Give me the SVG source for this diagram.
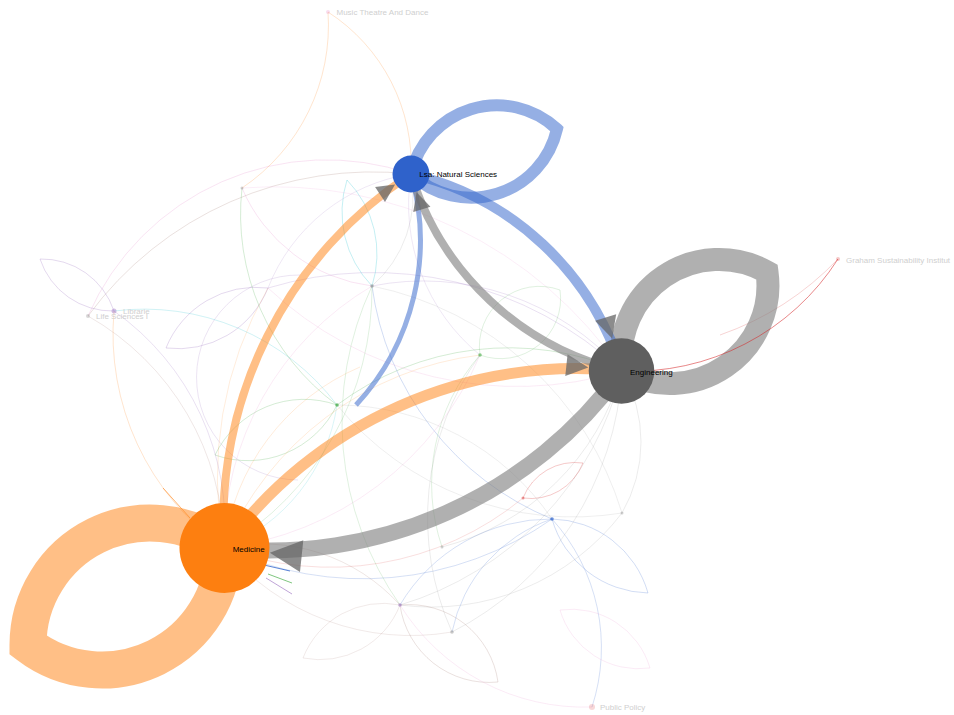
<svg xmlns="http://www.w3.org/2000/svg" width="954" height="715" viewBox="0 0 954 715">
<style>
.bg{fill:#fff}
.e{fill:none}
.loop{fill:none;stroke-linejoin:miter;stroke-miterlimit:10}
.or{stroke:#ff7f0e;stroke-opacity:.5}
.gr{stroke:#7f7f7f;stroke-opacity:.62}
.bl{stroke:#3366cc;stroke-opacity:.52}
.f{fill:none;stroke-width:1}
.fo{stroke:#ff7f0e}
.fg{stroke:#2ca02c}
.fb{stroke:#3366cc}
.fp{stroke:#9467bd}
.fk{stroke:#e377c2}
.fr{stroke:#d62728}
.fn{stroke:#8c564b}
.ft{stroke:#17becf}
.fy{stroke:#7f7f7f}
.ah{fill:#666;fill-opacity:.75}
.lbl{font-family:"Liberation Sans",Arial,sans-serif;font-size:8px;fill:#000}
.plbl{font-family:"Liberation Sans",Arial,sans-serif;font-size:8px;fill:#cfcfcf}
.sn{stroke:none}
</style>
<defs>
<marker id="aLsa" viewBox="0 -5 10 10" markerUnits="userSpaceOnUse" markerWidth="18" markerHeight="18" refX="20.6" refY="0" orient="auto" overflow="visible"><path class="ah" d="M0,-5L10,0L0,5Z"/></marker>
<marker id="aEng" viewBox="0 -5 10 10" markerUnits="userSpaceOnUse" markerWidth="22" markerHeight="22" refX="25.4" refY="0" orient="auto" overflow="visible"><path class="ah" d="M0,-5L10,0L0,5Z"/></marker>
<marker id="aMed" viewBox="0 -5 10 10" markerUnits="userSpaceOnUse" markerWidth="32" markerHeight="32" refX="24.4" refY="0" orient="auto" overflow="visible"><path class="ah" d="M0,-5L10,0L0,5Z"/></marker>
</defs>
<rect class="bg" x="0" y="0" width="954" height="715"/>

<g id="connectors">
  <!-- faint edges -->
  <g id="faint">
    <path class="f fn" stroke-opacity=".18" stroke-width="4" d="M88,316 A353,353 0 0 1 411,174"/>
    <path class="f fn" stroke-opacity=".14" stroke-width="6" d="M88,316 A269,269 0 0 1 224,548"/>
    <path class="f fk" stroke-opacity=".2" d="M88,316 A260,260 0 0 1 411,174"/>
    <path class="f fo" stroke-opacity=".2" d="M328,12 A182,182 0 0 1 411,174"/>
    <path class="f fo" stroke-opacity=".2" d="M328,12 A196,196 0 0 1 242,188"/>
    <path class="f fp" stroke-opacity=".25" d="M114,311 A76,76 0 0 1 40,259 A76,76 0 0 1 114,311"/>
    <path class="f fg" stroke-opacity=".2" stroke-width="3" d="M337,405 A99,99 0 0 1 215,455 A99,99 0 0 1 337,405"/>
    <path class="f fo" stroke-opacity=".14" stroke-width="7" d="M224,548 A380,380 0 0 1 268,288"/>
    <path class="f fo" stroke-opacity=".15" stroke-width="5" d="M224,548 A226,226 0 0 1 360,367"/>
    <path class="f ft" stroke-opacity=".16" stroke-width="6" d="M337,405 A182,182 0 0 1 224,548"/>
    <path class="f fg" stroke-opacity=".2" stroke-width="3" d="M337,405 A287,287 0 0 1 622,371"/>
    <path class="f fp" stroke-opacity=".2" stroke-width="2" d="M268,288 A364,364 0 0 1 622,371"/>
    <path class="f fp" stroke-opacity=".25" stroke-width="2" d="M268,288 A97,97 0 0 1 166,348 A97,97 0 0 1 268,288"/>
    <path class="f fp" stroke-opacity=".18" stroke-width="2" d="M300,275 A60,60 0 0 0 298,480"/>
    <path class="f fb" stroke-opacity=".2" stroke-width="2.5" d="M552,519 A329,329 0 0 1 224,548"/>
    <path class="f fb" stroke-opacity=".22" stroke-width="1.5" d="M552,519 A294,294 0 0 1 372,286"/>
    <path class="f fb" stroke-opacity=".2" stroke-width="1.5" d="M552,519 A192,192 0 0 1 592,707"/>
    <path class="f fb" stroke-opacity=".2" stroke-width="1.5" d="M400,605 A175,175 0 0 1 552,519"/>
    <path class="f fb" stroke-opacity=".22" stroke-width="2" d="M552,519 A102,102 0 0 1 648,593 A102,102 0 0 1 552,519"/>
    <path class="f fy" stroke-opacity=".15" stroke-width="4" d="M622,371 A312,312 0 0 1 452,632"/>
    <path class="f fy" stroke-opacity=".15" stroke-width="3" d="M622,371 A323,323 0 0 1 400,605"/>
    <path class="f fy" stroke-opacity=".15" stroke-width="1.5" d="M622,371 A142,142 0 0 1 622,513"/>
    <path class="f fy" stroke-opacity=".15" d="M622,513 A240,240 0 0 1 400,605"/>
    <path class="f fr" stroke-opacity=".25" d="M523,498 A56,56 0 0 1 583,463 A56,56 0 0 1 523,498"/>
    <path class="f fp" stroke-opacity=".15" d="M480,355 A194,194 0 0 1 411,174"/>
    <path class="f fy" stroke-opacity=".15" d="M411,174 A119,119 0 0 1 372,286"/>
    <path class="f fp" stroke-opacity=".18" stroke-width="1.5" d="M372,286 A264,264 0 0 1 622,371"/>
    <path class="f fk" stroke-opacity=".15" d="M224,548 A301,301 0 0 1 372,286"/>
    <path class="f fg" stroke-opacity=".15" d="M372,286 A301,301 0 0 1 224,548"/>
    <path class="f ft" stroke-opacity=".25" stroke-width="2" d="M372,286 A106,106 0 0 1 347,180 A106,106 0 0 1 372,286"/>
    <path class="f fp" stroke-opacity=".2" d="M114,311 A262,262 0 0 1 224,548"/>
    <path class="f ft" stroke-opacity=".2" d="M114,311 A242,242 0 0 1 337,405"/>
    <path class="f fo" stroke-opacity=".2" d="M224,548 A262,262 0 0 1 114,311"/>
    <path class="f fg" stroke-opacity=".2" d="M337,405 A237,237 0 0 1 242,188"/>
    <path class="f fk" stroke-opacity=".2" d="M372,286 A163,163 0 0 1 242,188"/>
    <path class="f fn" stroke-opacity=".18" stroke-width="1.5" d="M400,605 A90,90 0 0 1 498,682 A90,90 0 0 1 400,605"/>
    <path class="f fn" stroke-opacity=".12" d="M400,605 A86,86 0 0 1 303,658 A86,86 0 0 1 400,605"/>
    <path class="f fk" stroke-opacity=".15" d="M560,610 A82,82 0 0 1 650,668 A82,82 0 0 1 560,610"/>
    <path class="f fr" stroke-opacity=".15" d="M523,498 A303,303 0 0 1 224,548"/>
    <path class="f fy" stroke-opacity=".15" d="M622,371 A252,252 0 0 1 442,547"/>
    <path class="f fg" stroke-opacity=".15" d="M442,547 A196,196 0 0 1 480,355"/>
    <path class="f fy" stroke-opacity=".15" d="M452,632 A279,279 0 0 1 480,355"/>
    <path class="f fk" stroke-opacity=".15" d="M480,355 A321,321 0 0 1 224,548"/>
    <path class="f fg" stroke-opacity=".15" d="M400,605 A320,320 0 0 1 372,286"/>
    <path class="f fk" stroke-opacity=".15" d="M592,707 A217,217 0 0 1 400,605"/>
    <path class="f fb" stroke-opacity=".2" d="M452,632 A151,151 0 0 1 552,519"/>
    <path class="f fp" stroke-opacity=".15" d="M268,288 A183,183 0 0 1 411,174"/>
    <path class="f fk" stroke-opacity=".15" d="M622,371 A364,364 0 0 1 268,288"/>
    <path class="f fk" stroke-opacity=".12" stroke-width="1.5" d="M242,188 A420,420 0 0 1 622,371"/>
    <path class="f fo" stroke-opacity=".15" d="M224,548 A321,321 0 0 1 480,355"/>
    <path class="f fy" stroke-opacity=".12" d="M622,513 A305,305 0 0 1 337,405"/>
    <path class="f fn" stroke-opacity=".15" d="M224,548 A185,185 0 0 1 400,605"/>
    <path class="f fn" stroke-opacity=".12" d="M452,632 A243,243 0 0 1 224,548"/>
    <path class="f fg" stroke-opacity=".15" d="M480,355 A60,60 0 0 1 560,290 A60,60 0 0 1 480,355"/>
    <path class="f fy" stroke-opacity=".12" d="M337,405 A260,260 0 0 1 552,519"/>
    <path class="f fy" stroke-opacity=".12" d="M372,286 A330,330 0 0 1 622,513"/>
    <path class="f fr" stroke-opacity=".2" d="M838,259 A300,300 0 0 1 720,335"/>
    <!-- stubs at Medicine -->
    <path class="f fb" stroke-opacity=".8" stroke-width="3" d="M264,565 L290,571"/>
    <path class="f fg" stroke-opacity=".6" d="M268,574 L292,583"/>
    <path class="f fp" stroke-opacity=".6" d="M266,578 L292,594"/>
    <path class="f fo" stroke-opacity=".6" d="M163,488 L190,518"/>
  </g>
  <!-- self loops -->
  <path id="loop-med" class="loop or" stroke-width="37" d="M224,548 A122,122 0 0 0 28,645 A122,122 0 0 0 224,548"/>
  <path id="loop-eng" class="loop gr" stroke-width="23" d="M622,371 A98,98 0 0 1 767,272 A98,98 0 0 1 622,371"/>
  <path id="loop-lsa" class="loop bl" stroke-width="12" d="M411,174 A88,88 0 0 1 557,129 A88,88 0 0 1 411,174"/>
  <!-- graham to engineering -->
  <path class="f fr" stroke-opacity=".55" d="M838,259 A243,243 0 0 1 622,371"/>
  <!-- main edges -->
  <path id="e-lsa-n2" class="e bl" stroke-width="5" d="M411,174 A242,242 0 0 1 356,405"/>
  <path id="e-med-lsa" class="e or" stroke-width="8" marker-end="url(#aLsa)" d="M224,548 A418,418 0 0 1 411,174"/>
  <path id="e-med-eng" class="e or" stroke-width="11" marker-end="url(#aEng)" d="M224,548 A436,436 0 0 1 622,371"/>
  <path id="e-eng-med" class="e gr" stroke-width="16" marker-end="url(#aMed)" d="M622,371 A436,436 0 0 1 224,548"/>
  <path id="e-lsa-eng" class="e bl" stroke-width="10" marker-end="url(#aEng)" d="M411,174 A289,289 0 0 1 622,371"/>
  <path id="e-eng-lsa" class="e gr" stroke-width="8" marker-end="url(#aLsa)" d="M622,371 A289,289 0 0 1 411,174"/>
</g>

<g id="minor-nodes">
  <circle cx="372" cy="286" r="1.8" fill="#7f7f7f" fill-opacity=".5"/>
  <circle cx="337" cy="405" r="1.8" fill="#2ca02c" fill-opacity=".6"/>
  <circle cx="480" cy="355" r="1.8" fill="#2ca02c" fill-opacity=".5"/>
  <circle cx="552" cy="519" r="1.8" fill="#3366cc" fill-opacity=".7"/>
  <circle cx="400" cy="605" r="1.8" fill="#9467bd" fill-opacity=".5"/>
  <circle cx="452" cy="632" r="1.8" fill="#7f7f7f" fill-opacity=".4"/>
  <circle cx="622" cy="513" r="1.5" fill="#7f7f7f" fill-opacity=".35"/>
  <circle cx="242" cy="188" r="1.5" fill="#7f7f7f" fill-opacity=".35"/>
  <circle cx="523" cy="498" r="1.5" fill="#d62728" fill-opacity=".45"/>
  <circle cx="442" cy="547" r="1.5" fill="#7f7f7f" fill-opacity=".35"/>
</g>

<g id="node-music"><circle cx="328" cy="12" r="2" fill="#e377c2" fill-opacity=".25"/><text class="plbl" x="336.5" y="15">Music Theatre And Dance</text></g>
<g id="node-graham"><circle cx="838" cy="259" r="2" fill="#d62728" fill-opacity=".25"/><text class="plbl" x="846" y="263">Graham Sustainability Institut</text></g>
<g id="node-life"><circle cx="88" cy="316" r="2" fill="#7f7f7f" fill-opacity=".3"/><text class="plbl" x="96" y="319">Life Sciences I</text></g>
<g id="node-lib"><circle cx="114" cy="311" r="2.5" fill="#9467bd" fill-opacity=".4"/><text class="plbl" x="123" y="313.5">Librarie</text></g>
<g id="node-pp"><circle cx="592" cy="707" r="3" fill="#d62728" fill-opacity=".18"/><text class="plbl" x="600" y="710">Public Policy</text></g>

<g id="node-medicine"><circle cx="224.5" cy="548" r="45" fill="#fd7f10"/><text class="lbl" x="232.7" y="552.3">Medicine</text></g>
<g id="node-lsa"><circle cx="411" cy="174" r="18.5" fill="#2f62cb"/><text class="lbl" x="419.3" y="177.3">Lsa: Natural Sciences</text></g>
<g id="node-engineering"><circle cx="621.5" cy="371" r="32.8" fill="#5f5f5f"/><text class="lbl" x="630" y="375">Engineering</text></g>
</svg>
